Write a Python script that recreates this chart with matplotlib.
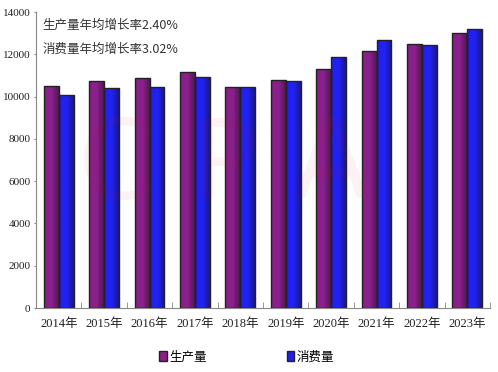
import matplotlib
matplotlib.use("Agg")
import matplotlib.pyplot as plt
import numpy as np
from matplotlib.colors import LinearSegmentedColormap
from matplotlib.patches import Rectangle

plt.rcParams['font.family'] = ['Liberation Serif', 'Noto Sans CJK SC', 'DejaVu Sans']

years = ['2014年', '2015年', '2016年', '2017年', '2018年', '2019年', '2020年', '2021年', '2022年', '2023年']
production = [10500, 10750, 10900, 11180, 10470, 10800, 11300, 12160, 12490, 13010]
consumption = [10090, 10390, 10460, 10940, 10470, 10740, 11870, 12680, 12460, 13200]
series_names = ['生产量', '消费量']
notes = ['生产量年均增长率2.40%', '消费量年均增长率3.02%']

fig = plt.figure(figsize=(4.98, 3.72), dpi=100)
ax = fig.add_axes([36/498, 64/372, (490-36)/498, (308-12)/372])

# faint watermark
fig.text(0.45, 0.55, 'C P A', fontsize=80, color='#d01030', alpha=0.05, ha='center', va='center',
         family=['DejaVu Sans'], zorder=10)

x = np.arange(len(years))
w = 0.33
cm_p = LinearSegmentedColormap.from_list('p', ['#8a1f86', '#8c2090', '#4e1a4e'])
cm_b = LinearSegmentedColormap.from_list('b', ['#2020f0', '#2222f5', '#18188a'])
grad = np.linspace(0, 1, 64).reshape(1, -1)

def gbar(xs, vals, cmap):
    bars = ax.bar(xs, vals, w, color='none', edgecolor='#222222', linewidth=1.0, zorder=3)
    for b in bars:
        x0, y0 = b.get_x(), b.get_y()
        im = ax.imshow(grad, cmap=cmap, aspect='auto', extent=[x0, x0 + b.get_width(), y0, y0 + b.get_height()], zorder=2)
        im.set_clip_path(b)
    return bars

b1 = gbar(x - w/2, production, cm_p)
b2 = gbar(x + w/2, consumption, cm_b)

ax.set_xlim(-0.5, len(years) - 0.5)
ax.set_ylim(0, 14000)
ax.set_yticks(np.arange(0, 14001, 2000))
ax.set_xticks(x)
ax.set_xticklabels(years)
ax.set_xticks(np.arange(-0.5, len(years), 1), minor=True)
ax.tick_params(axis='x', which='major', length=0, pad=7, labelsize=9, colors='#222222')
ax.tick_params(axis='x', which='minor', length=4, direction='in', color='#888888')
ax.tick_params(axis='y', length=1.5, width=0.8, color='#888888', pad=2.5, labelsize=8, labelcolor='#222222')
for lab in ax.get_yticklabels():
    lab.set_family(['Liberation Serif'])
for s in ['top', 'right']:
    ax.spines[s].set_visible(False)
ax.spines['left'].set_color('#888888')
ax.spines['bottom'].set_color('#888888')

ax.text(0.015, 0.975, notes[0], transform=ax.transAxes, fontsize=9, color='#333333', va='top',
        family=['Noto Sans CJK SC'])
ax.text(0.015, 0.895, notes[1], transform=ax.transAxes, fontsize=9, color='#333333', va='top',
        family=['Noto Sans CJK SC'])

handles = [Rectangle((0, 0), 1, 1, facecolor='#8a1f86', edgecolor='#222222'),
           Rectangle((0, 0), 1, 1, facecolor='#2020f0', edgecolor='#222222')]
fig.legend(handles, series_names, loc='center', bbox_to_anchor=(0.495, 0.04), ncol=2, frameon=False,
           handlelength=0.6, handleheight=0.9, handletextpad=0.2, columnspacing=6.4,
           prop={'family': ['Noto Sans CJK SC'], 'size': 9})

fig.savefig('out.png', dpi=100)
